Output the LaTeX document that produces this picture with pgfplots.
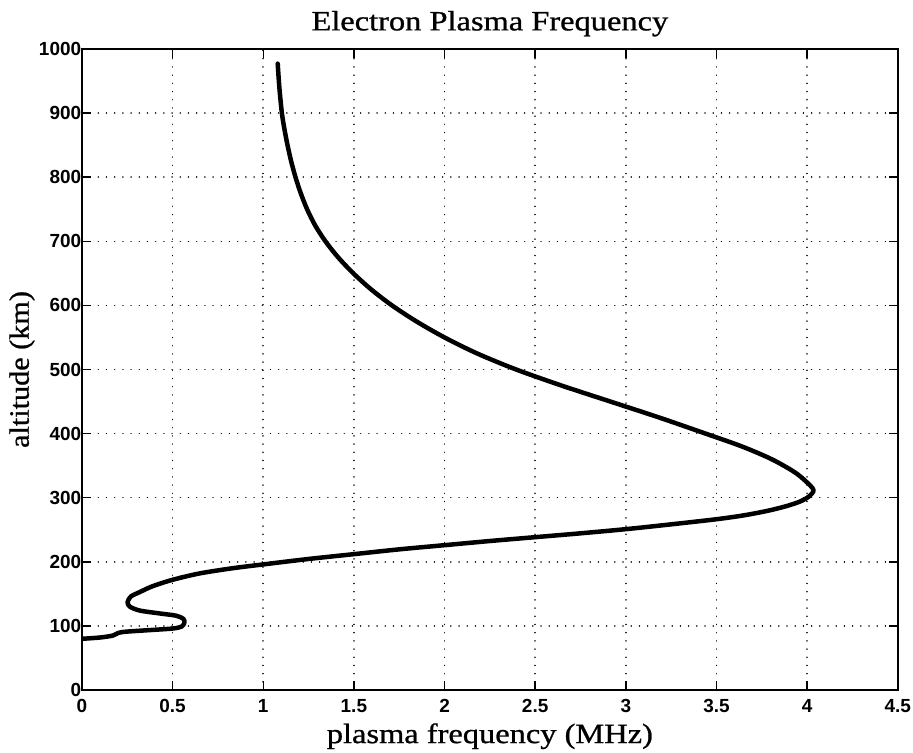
\documentclass[border=0pt]{standalone}
\usepackage{pgfplots}
\pgfplotsset{compat=1.18}
\usepackage{fontspec}
\setmainfont{Liberation Serif}
\setsansfont{Liberation Sans}
\newfontfamily\lab{Liberation Serif}[FakeBold=0.8]
\newcommand{\wide}[1]{\scalebox{1.16}[1]{#1}}
\begin{document}
\begin{tikzpicture}
\begin{axis}[
  scale only axis,
  width=817pt, height=642pt,
  xmin=0, xmax=4.5, ymin=0, ymax=1000,
  xtick={0,0.5,...,4.5},
  ytick={0,100,...,1000},
  xticklabels={0,0.5,1,1.5,2,2.5,3,3.5,4,4.5},
  yticklabels={0,100,200,300,400,500,600,700,800,900,1000},
  tick align=inside,
  tick pos=both,
  major tick length=9pt,
  every tick/.style={black, line width=1.4pt},
  axis line style={line width=1.6pt},
  grid=major,
  major grid style={black, line width=1.5pt, dash pattern=on 0.01pt off 8.2pt, line cap=round},
  tick label style={font=\fontsize{19}{22}\selectfont\sffamily\bfseries},
  yticklabel style={inner sep=0.5pt},
  xticklabel style={inner sep=2pt, yshift=-7pt},
  title={\wide{Electron Plasma Frequency}},
  title style={font=\fontsize{28}{32}\selectfont\lab, at={(axis description cs:0.5,1.030)}, anchor=center},
  xlabel={\wide{plasma frequency (MHz)}},
  xlabel style={font=\fontsize{28}{32}\selectfont\lab, at={(axis description cs:0.5,-0.072)}, anchor=center},
  ylabel={\scalebox{1.08}[1]{altitude (km)}},
  ylabel style={font=\fontsize{28}{32}\selectfont\lab, at={(axis description cs:-0.0734,0.5)}, anchor=center},
]
\addplot[black, line width=4.5pt, smooth, tension=0.5, line cap=round, line join=round] coordinates {
(0.00,80) (0.10,82) (0.17,85) (0.20,89) (0.24,91) (0.37,93.5) (0.50,96)
(0.55,99) (0.565,105) (0.56,111) (0.52,116) (0.43,119.5) (0.32,124)
(0.265,130) (0.252,137) (0.27,146) (0.32,153) (0.39,162) (0.50,172)
(0.65,182) (0.83,190) (1.00,196) (1.25,204.5) (1.50,212) (1.75,219.5)
(2.00,226) (2.25,232.5) (2.50,238.5) (2.75,244.5) (3.00,251) (3.25,258.5)
(3.50,266.5) (3.65,272.5) (3.78,279.5) (3.88,286.5) (3.96,294) (4.01,302)
(4.035,312) (3.995,325) (3.93,340) (3.805,360) (3.64,380) (3.44,400)
(3.185,425) (2.915,450) (2.645,475) (2.395,500) (2.18,525) (2.00,550)
(1.845,575) (1.71,600) (1.595,625) (1.497,650) (1.413,675) (1.343,700)
(1.286,725) (1.242,750) (1.207,775) (1.178,800) (1.154,825) (1.134,850)
(1.117,875) (1.103,900) (1.089,940) (1.08,977)
};
\coordinate (ll) at (rel axis cs:0,0);
\coordinate (ur) at (rel axis cs:1,1);
\end{axis}
\path ([shift={(-82pt,-58pt)}]ll) rectangle ([shift={(14pt,49pt)}]ur);
\end{tikzpicture}
\end{document}
